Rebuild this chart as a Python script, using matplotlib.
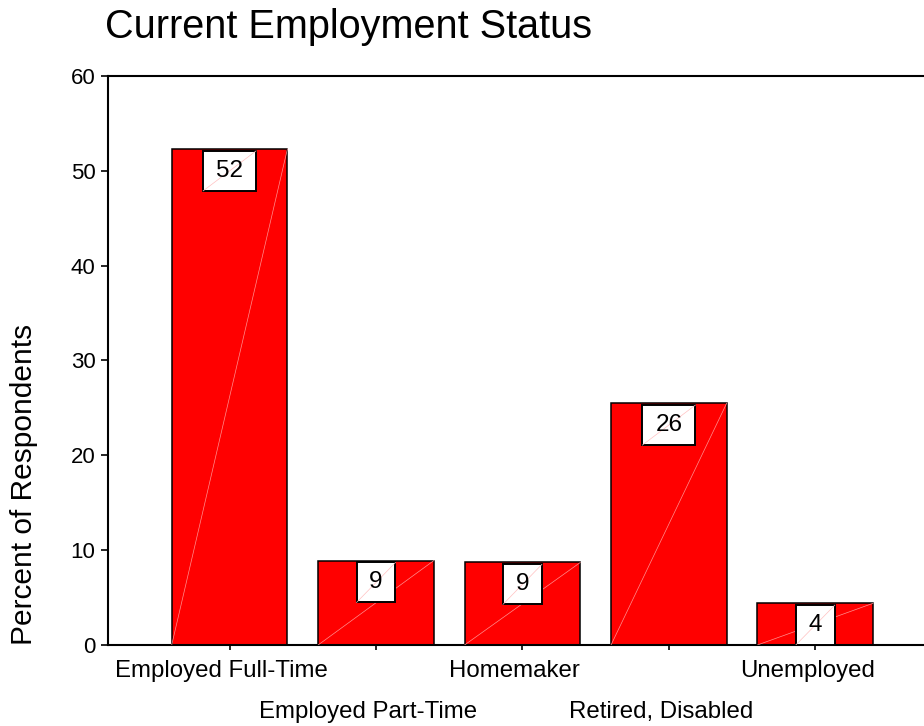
import numpy as np
import matplotlib
matplotlib.use("Agg")
import matplotlib.pyplot as plt
from matplotlib.patches import Rectangle
from matplotlib.transforms import ScaledTranslation

plt.rcParams['font.family'] = ['Liberation Sans', 'DejaVu Sans']

# employment categories and percent of respondents
categories = ['Employed Full-Time', 'Employed Part-Time', 'Homemaker',
              'Retired, Disabled', 'Unemployed']
percents = [52.3, 8.9, 8.7, 25.5, 4.4]

fig = plt.figure(figsize=(9.24, 7.26), dpi=100)
ax = fig.add_axes([0.1169, 0.1116, 0.897, 0.7837])

x = np.arange(len(categories))
barWidth = 0.79
ax.bar(x, percents, width=barWidth, color='#ff0000', edgecolor='black',
       linewidth=1.1, zorder=2)

# faint diagonal through each bar
for xi, p in zip(x, percents):
    ax.plot([xi - barWidth / 2, xi + barWidth / 2], [0, p], color='#ff9090',
            linewidth=0.5, zorder=3)

# value boxes hanging from the top of each bar
boxH = 4.22
for xi, p in zip(x, percents):
    label = '%d' % round(p)
    w = 0.17 + 0.096 * len(label)
    top = p - 0.2
    bottom = max(top - boxH, 0)
    ax.add_patch(Rectangle((xi - w / 2, bottom), w, top - bottom,
                           facecolor='white', edgecolor='black',
                           linewidth=1.4, zorder=4))
    ax.plot([xi - w / 2, xi + w / 2], [bottom, top], color='#ffc0c0',
            linewidth=0.5, zorder=5)
    ax.text(xi, (top + bottom) / 2, label, ha='center', va='center',
            fontsize=17.5, zorder=6)

ax.set_xlim(-0.83, 4.83)
ax.set_ylim(0, 60)
ax.set_yticks(np.arange(0, 61, 10))
ax.set_xticks(x)
ax.set_xticklabels(categories, fontsize=17.3)
ax.tick_params(axis='y', labelsize=16, length=5, width=1.2, pad=4)
ax.tick_params(axis='x', length=3.6, width=1.2)

# stagger the category labels over two rows, nudged a little left
shift = ScaledTranslation(-0.08, 0, fig.dpi_scale_trans)
for i, tick in enumerate(ax.xaxis.get_major_ticks()):
    tick.set_pad(7 if i % 2 == 0 else 36.5)
    tick.label1.set_transform(tick.label1.get_transform() + shift)

for side in ['left', 'bottom', 'top']:
    ax.spines[side].set_linewidth(1.5)
ax.spines['right'].set_visible(False)

ax.set_ylabel('Percent of Respondents', fontsize=21.5, loc='bottom')
ax.yaxis.set_label_coords(-0.0844, 0)

fig.text(105 / 924, 1 - 38 / 726, 'Current Employment Status',
         fontsize=28.5, ha='left', va='baseline')

plt.savefig('out.png', dpi=100)
